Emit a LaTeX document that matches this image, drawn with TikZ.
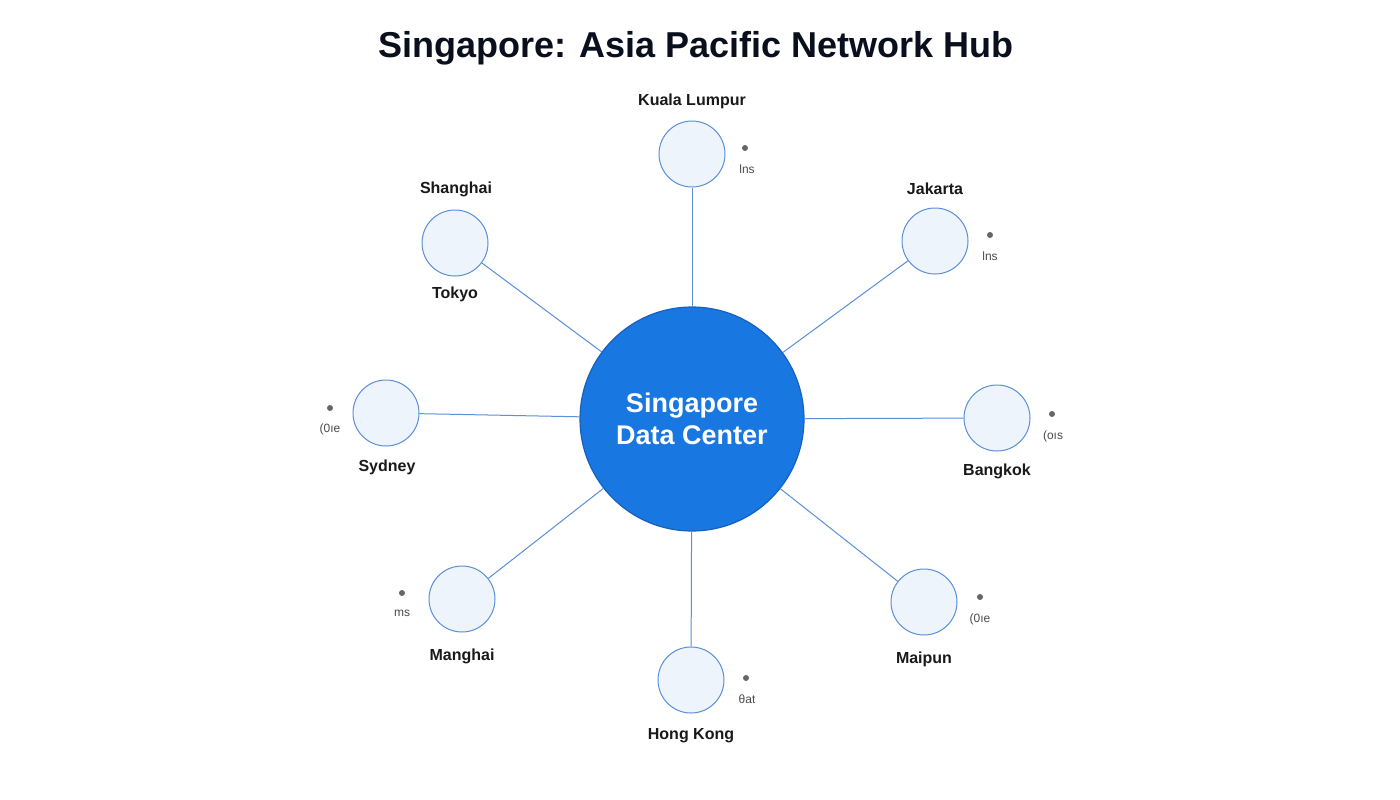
\documentclass[tikz,border=0pt]{standalone}
\usepackage{fontspec}
\setmainfont{Liberation Sans}
\begin{document}
\begin{tikzpicture}[x=1pt,y=-1pt,
  sat/.style={circle,draw=satb,fill=satf,line width=1pt,minimum size=66pt,inner sep=0pt},
  hub/.style={circle,draw=hubb,fill=hubf,line width=1.2pt,minimum size=224pt,inner sep=0pt,text=white,font=\bfseries\fontsize{27}{32}\selectfont,align=center},
  lbl/.style={font=\bfseries\fontsize{16}{18}\selectfont,text=black!90},
  sm/.style={font=\fontsize{12}{14}\selectfont,text=black!70},
  dotn/.style={circle,fill=black!60,inner sep=0pt,minimum size=6pt},
  link/.style={draw=satb,line width=1pt}]
\definecolor{satb}{HTML}{5B8FD9}
\definecolor{satf}{HTML}{EEF4FC}
\definecolor{hubb}{HTML}{1560C0}
\definecolor{hubf}{HTML}{1877E0}
\useasboundingbox[fill=white] (0,0) rectangle (1400,800);
\node[font=\bfseries\fontsize{36}{40}\selectfont,text={rgb,255:red,10;green,15;blue,30}] (title) at (696,48) {Singapore: Asia Pacific Network Hub};
\node[hub] (c) at (692,419) {Singapore\\Data Center};
\node[sat] (kl) at (692,154) {};
\node[sat] (sh) at (455,243) {};
\node[sat] (jk) at (935,241) {};
\node[sat] (sy) at (386,413) {};
\node[sat] (bk) at (997,418) {};
\node[sat] (mg) at (462,599) {};
\node[sat] (mp) at (924,602) {};
\node[sat] (hk) at (691,680) {};
\foreach \n in {kl,sh,jk,sy,bk,mg,mp,hk} \draw[link] (c) -- (\n);
\node[lbl] (lkl) at (692,101) {Kuala Lumpur};
\node[lbl] (lsh) at (456,189) {Shanghai};
\node[lbl] (lto) at (455,294) {Tokyo};
\node[lbl] (ljk) at (935,189) {Jakarta};
\node[lbl] (lsy) at (387,467) {Sydney};
\node[lbl] (lbk) at (997,471) {Bangkok};
\node[lbl] (lmg) at (462,656) {Manghai};
\node[lbl] (lmp) at (924,659) {Maipun};
\node[lbl] (lhk) at (691,736) {Hong Kong};
\node[dotn] (d1) at (745,148) {}; \node[sm] (t1) at (747,169) {lns};
\node[dotn] (d2) at (990,235) {}; \node[sm] (t2) at (990,256) {lns};
\node[dotn] (d3) at (330,408) {}; \node[sm] (t3) at (330,429) {(0ıe};
\node[dotn] (d4) at (1052,414) {}; \node[sm] (t4) at (1053,436) {(oıs};
\node[dotn] (d5) at (402,593) {}; \node[sm] (t5) at (402,613) {ms};
\node[dotn] (d6) at (980,597) {}; \node[sm] (t6) at (980,619) {(0ıe};
\node[dotn] (d7) at (746,678) {}; \node[sm] (t7) at (747,699) {θat};
\end{tikzpicture}
\end{document}
